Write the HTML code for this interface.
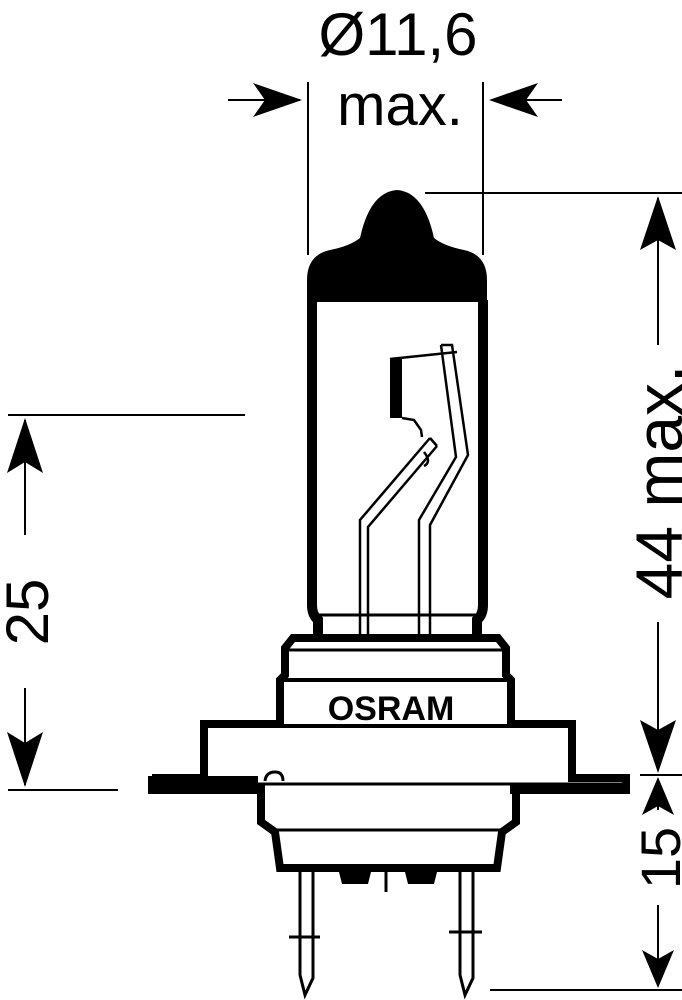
<!DOCTYPE html>
<html><head><meta charset="utf-8"><style>
html,body{margin:0;padding:0;background:#fff;}
svg{display:block;}
text{font-family:"Liberation Sans",sans-serif;fill:#000;}
</style></head><body>
<svg width="682" height="1000" viewBox="0 0 682 1000" xmlns="http://www.w3.org/2000/svg">
<g stroke="#000" fill="none">
<line x1="308" y1="82" x2="308" y2="255" stroke-width="2"/>
<line x1="483" y1="82" x2="483" y2="255" stroke-width="2"/>
<line x1="228" y1="100" x2="300" y2="100" stroke-width="2"/>
<line x1="492" y1="100" x2="562" y2="100" stroke-width="2"/>
<line x1="425" y1="193" x2="682" y2="193" stroke-width="2"/>
<line x1="8" y1="415" x2="245" y2="415" stroke-width="2"/>
<line x1="8" y1="790" x2="118" y2="790" stroke-width="2"/>
<line x1="25" y1="420" x2="25" y2="535" stroke-width="2"/>
<line x1="25" y1="688" x2="25" y2="785" stroke-width="2"/>
<line x1="658" y1="198" x2="658" y2="345" stroke-width="2"/>
<line x1="658" y1="622" x2="658" y2="770" stroke-width="2"/>
<line x1="640" y1="775" x2="682" y2="775" stroke-width="2"/>
<line x1="658" y1="780" x2="658" y2="810" stroke-width="2"/>
<line x1="658" y1="905" x2="658" y2="985" stroke-width="2"/>
<line x1="490" y1="990" x2="682" y2="990" stroke-width="2"/>
</g>
<g fill="#000">
<polygon points="302,100 253,83 265,100 253,117"/>
<polygon points="489,100 538,83 526,100 538,117"/>
<polygon points="25,418 7,473 25,462 43,473"/>
<polygon points="25,787 7,732 25,743 43,732"/>
<polygon points="658,196 640,250 658,240 676,250"/>
<polygon points="658,773 640,720 658,730 676,720"/>
<polygon points="658,777 642,815 658,806 674,815"/>
<polygon points="658,988 642,950 658,959 674,950"/>
</g>
<text x="398" y="55" font-size="60" text-anchor="middle">Ø11,6</text>
<text x="400" y="125" font-size="58" text-anchor="middle">max.</text>
<text transform="translate(48,612) rotate(-90)" font-size="60" text-anchor="middle">25</text>
<text transform="translate(682,482) rotate(-90)" font-size="66" text-anchor="middle">44 max.</text>
<text transform="translate(680,858) rotate(-90)" font-size="56" text-anchor="middle">15</text>

<g stroke="#000" fill="none" stroke-linecap="butt">
<path d="M312,300 L312,605 Q312,615 318,620 L318,640" stroke-width="10"/>
<path d="M483,300 L483,605 Q483,615 477,620 L477,640" stroke-width="10"/>
<line x1="318" y1="615" x2="477" y2="615" stroke-width="3"/>
</g>
<path d="M307,302 L307,280 Q307,255 330,250 Q350,246 360,238 Q370,192 397,190 Q424,192 434,238 Q444,246 464,250 Q487,255 487,280 L487,302 Z" fill="#000"/>
<rect x="390" y="359" width="12" height="59" fill="#000"/>
<g stroke="#000" stroke-width="2.5" fill="none" stroke-linejoin="miter">
<line x1="390" y1="359" x2="457" y2="352"/>
<path d="M402,418 L414,420 L421,430 L422,437"/>
<path d="M441,345 L452,345 L468,455 L430,525 L430,637"/>
<path d="M441,345 L456,457 L419,520 L419,637"/>
<path d="M430,438 L360,520 L360,637"/>
<path d="M437,446 L368,527 L368,637"/>
<path d="M430,438 L437,446"/>
<path d="M424,452 Q432,462 424,466"/>
</g>
<g stroke="#000" fill="none" stroke-linejoin="miter">
<path d="M280,724 L280,680 L285,675 L285,648 L293,638 L498,638 L506,648 L506,675 L511,680 L511,724" stroke-width="8"/>
<line x1="289" y1="650" x2="502" y2="650" stroke-width="3"/>
<line x1="283" y1="680" x2="508" y2="680" stroke-width="4"/>
<path d="M284,724 L204,724 L204,778 L152,778" stroke-width="8"/>
<path d="M508,724 L572,724 L572,778 L626,778 L626,790" stroke-width="8"/>
<line x1="205" y1="726" x2="571" y2="726" stroke-width="4"/>
</g>
<rect x="148" y="776" width="110" height="18" fill="#000"/>
<rect x="510" y="785" width="120" height="9" fill="#000"/>
<line x1="200" y1="784" x2="622" y2="784" stroke="#000" stroke-width="3"/>
<g stroke="#000" fill="none">
<path d="M261,784 L261,822 L275,832 L280,868 L497,868 L502,832 L516,822 L516,786" stroke-width="8"/>
<line x1="275" y1="830" x2="502" y2="830" stroke-width="3"/>
<path d="M265,781 Q266,772 275,772 Q283,772 283,781" stroke-width="3"/>
</g>
<path d="M338,868 L342,884 L368,884 L372,868 Z" fill="#000"/>
<path d="M404,868 L408,884 L434,884 L438,868 Z" fill="#000"/>
<line x1="386" y1="868" x2="386" y2="892" stroke="#000" stroke-width="3"/>
<g stroke="#000" stroke-width="3" fill="none">
<path d="M300,870 L300,975 L305,995 L313,978 L313,870"/>
<path d="M460,870 L460,975 L465,995 L473,978 L473,870"/>
<line x1="289" y1="937" x2="320" y2="937"/>
<line x1="449" y1="932" x2="482" y2="932"/>
</g>
<text x="391" y="720" font-size="34" font-weight="bold" text-anchor="middle">OSRAM</text>
</svg>
</body></html>
